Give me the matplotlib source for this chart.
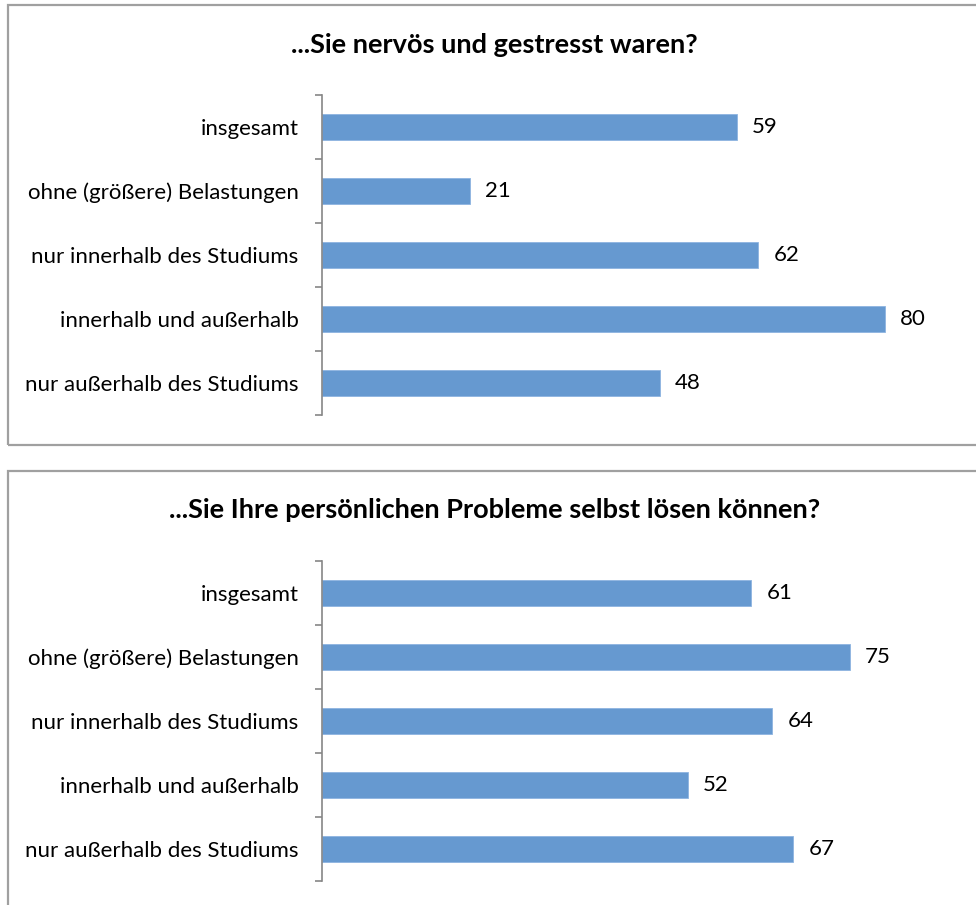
import numpy as np
import matplotlib.pyplot as plt
from matplotlib.patches import Rectangle

plt.rcParams['font.family'] = ['Lato', 'DejaVu Sans']

kategorien = ["insgesamt", "ohne (größere) Belastungen", "nur innerhalb des Studiums",
              "innerhalb und außerhalb", "nur außerhalb des Studiums"]
titel_oben = "...Sie nervös und gestresst waren?"
titel_unten = "...Sie Ihre persönlichen Probleme selbst lösen können?"
werte_oben = [59, 21, 62, 80, 48]
werte_unten = [61, 75, 64, 52, 67]

W, H = 976, 905
balken_farbe = "#6699d0"
grau = "#a0a0a0"

fig = plt.figure(figsize=(W / 100, H / 100), dpi=100)


def px(x0, y0, x1, y1):
    # pixel box (from top left) -> figure fraction rect
    return [x0 / W, 1 - y1 / H, (x1 - x0) / W, (y1 - y0) / H]


def rahmen(x0, y0, x1, y1):
    r = Rectangle((x0 / W, 1 - y1 / H), (x1 - x0) / W, (y1 - y0) / H,
                  transform=fig.transFigure, fill=False, edgecolor=grau, lw=1.6)
    fig.patches.append(r)


def balken(ax, werte, xmax):
    y = np.arange(len(kategorien))
    ax.barh(y, werte, height=0.4, color=balken_farbe, edgecolor="#8db4e0", lw=0.6)
    for yi, v in zip(y, werte):
        ax.annotate(str(v), (v, yi), xytext=(11, 0), textcoords="offset points",
                    va="center", ha="left", fontsize=16)
    ax.set_xlim(0, xmax)
    ax.set_ylim(len(kategorien) - 0.5, -0.5)
    ax.set_yticks(y)
    ax.set_yticklabels(kategorien, fontsize=16)
    ax.set_yticks(np.arange(len(kategorien) + 1) - 0.5, minor=True)
    ax.tick_params(axis="y", which="major", length=0, pad=17)
    ax.tick_params(axis="y", which="minor", length=5, width=1.2, color="#868686")
    ax.set_xticks([])
    for s in ["top", "right", "bottom"]:
        ax.spines[s].set_visible(False)
    ax.spines["left"].set_color("#868686")
    ax.spines["left"].set_linewidth(1.2)


rahmen(8, 5, 990, 445)
rahmen(8, 471, 990, 920)

ax1 = fig.add_axes(px(322, 95, 955, 415))
balken(ax1, werte_oben, 90)
fig.text(494 / W, 1 - 45 / H, titel_oben, ha="center", va="center",
         fontsize=19.5, fontweight="bold")

ax2 = fig.add_axes(px(322, 561, 955, 881))
balken(ax2, werte_unten, 90)
fig.text(495 / W, 1 - 510 / H, titel_unten, ha="center", va="center",
         fontsize=19.5, fontweight="bold")

fig.savefig("out.png", dpi=100)
